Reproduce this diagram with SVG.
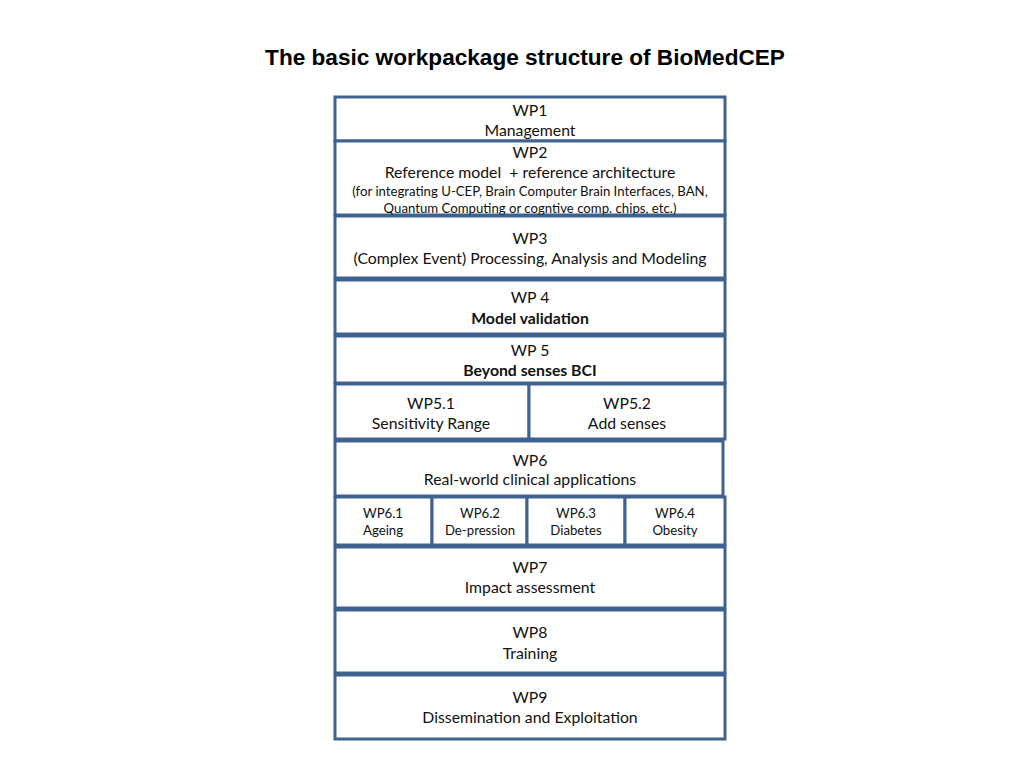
<svg xmlns="http://www.w3.org/2000/svg" width="1024" height="768" viewBox="0 0 1024 768">
<style>
rect.b{fill:#fff;stroke:#3f6290;stroke-width:3}
text{font-family:Lato,"Open Sans","Liberation Sans",sans-serif;fill:#111;text-anchor:middle;white-space:pre}
.m{font-size:15.8px}
.s{font-size:13.2px}
.bd{font-weight:bold}
.t{font-family:"Liberation Sans",Arial,sans-serif;font-size:22.6px;font-weight:bold;fill:#000}
</style>
<rect width="1024" height="768" fill="#fff"/>
<text class="t" x="525" y="65">The basic workpackage structure of BioMedCEP</text>
<g id="wp1"><rect class="b" x="335" y="97" width="390" height="44"/><text class="m" x="530" y="116">WP1</text><text class="m" x="530" y="136">Management</text></g>
<g id="wp2"><rect class="b" x="335" y="141" width="390" height="74"/><text class="m" x="530" y="158">WP2</text><text class="m" x="530" y="178" xml:space="preserve">Reference model  + reference architecture</text><text class="s" x="530" y="196">(for integrating U-CEP, Brain Computer Brain Interfaces, BAN,</text><text class="s" x="530" y="213">Quantum Computing or cogntive comp. chips, etc.)</text></g>
<g id="wp3"><rect class="b" x="335" y="216" width="390" height="62"/><text class="m" x="530" y="244">WP3</text><text class="m" x="530" y="264">(Complex Event) Processing, Analysis and Modeling</text></g>
<g id="wp4"><rect class="b" x="335" y="280" width="390" height="54"/><text class="m" x="530" y="303">WP 4</text><text class="m bd" x="530" y="324">Model validation</text></g>
<g id="wp5"><rect class="b" x="335" y="336" width="390" height="47"/><text class="m" x="530" y="356">WP 5</text><text class="m bd" x="530" y="376">Beyond senses BCI</text></g>
<g id="wp51"><rect class="b" x="335" y="384" width="194" height="55"/><text class="m" x="431" y="409">WP5.1</text><text class="m" x="431" y="429">Sensitivity Range</text></g>
<g id="wp52"><rect class="b" x="529" y="384" width="196" height="55"/><text class="m" x="627" y="409">WP5.2</text><text class="m" x="627" y="429">Add senses</text></g>
<g id="wp6"><rect class="b" x="335" y="441" width="388" height="55"/><text class="m" x="530" y="466">WP6</text><text class="m" x="530" y="485">Real-world clinical applications</text></g>
<g id="wp61"><rect class="b" x="335" y="497" width="97" height="48"/><text class="s" x="383" y="518">WP6.1</text><text class="s" x="383" y="535">Ageing</text></g>
<g id="wp62"><rect class="b" x="432" y="497" width="95" height="48"/><text class="s" x="480" y="518">WP6.2</text><text class="s" x="480" y="535">De-pression</text></g>
<g id="wp63"><rect class="b" x="527" y="497" width="98" height="48"/><text class="s" x="576" y="518">WP6.3</text><text class="s" x="576" y="535">Diabetes</text></g>
<g id="wp64"><rect class="b" x="625" y="497" width="100" height="48"/><text class="s" x="675" y="518">WP6.4</text><text class="s" x="675" y="535">Obesity</text></g>
<g id="wp7"><rect class="b" x="335" y="547" width="390" height="61"/><text class="m" x="530" y="573">WP7</text><text class="m" x="530" y="593">Impact assessment</text></g>
<g id="wp8"><rect class="b" x="335" y="610" width="390" height="63"/><text class="m" x="530" y="638">WP8</text><text class="m" x="530" y="659">Training</text></g>
<g id="wp9"><rect class="b" x="335" y="675" width="390" height="64"/><text class="m" x="530" y="703">WP9</text><text class="m" x="530" y="723">Dissemination and Exploitation</text></g>
<g id="connectors"></g>
</svg>
